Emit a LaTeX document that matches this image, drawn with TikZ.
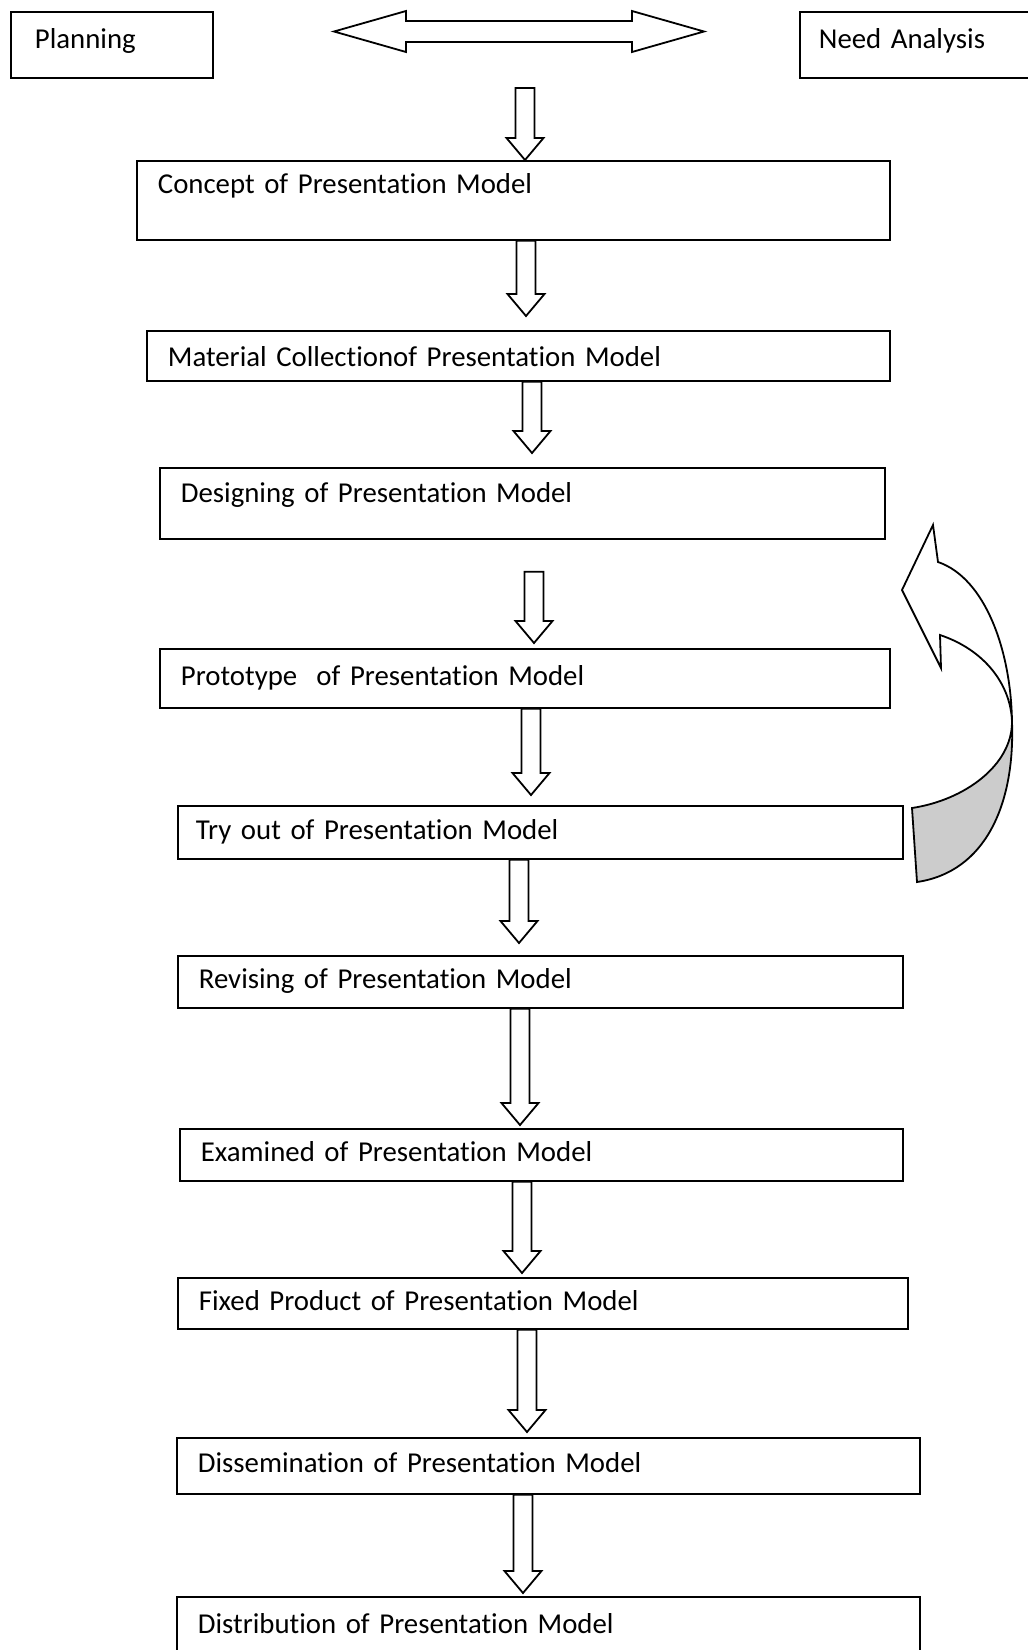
\documentclass[tikz,border=0pt]{standalone}
\usepackage{fontspec}
\setmainfont{Carlito}[Ligatures=NoCommon]
\usetikzlibrary{calc}

\begin{document}
\begin{tikzpicture}[x=0.5pt, y=-0.5pt, line width=0.9pt,
    font=\fontsize{14.4}{17}\selectfont,
    block/.style={rectangle, draw, anchor=north west, align=left, inner xsep=10.5pt, inner ysep=0pt, text height=10pt, text depth=3pt},
    hollow/.style={draw, fill=white, to path={let \p1=(\tikztostart), \p2=(\tikztotarget) in
        (\x1-4.75pt,\y1) -- (\x1-4.75pt,\y2+11pt) -- (\x1-9.25pt,\y2+11pt) -- (\x1,\y2)
        -- (\x1+9.25pt,\y2+11pt) -- (\x1+4.75pt,\y2+11pt) -- (\x1+4.75pt,\y1) -- cycle}},
    twoway/.style={draw, fill=white, to path={let \p1=(\tikztostart), \p2=(\tikztotarget) in
        (\p1) -- (\x1+36pt,\y1+10.25pt) -- (\x1+36pt,\y1+5.25pt) -- (\x2-36pt,\y1+5.25pt)
        -- (\x2-36pt,\y1+10.25pt) -- (\p2) -- (\x2-36pt,\y1-10.25pt) -- (\x2-36pt,\y1-5.25pt)
        -- (\x1+36pt,\y1-5.25pt) -- (\x1+36pt,\y1-10.25pt) -- cycle}}]

    \useasboundingbox (0,0) rectangle (1028,1650);

    \node [block, text width=77pt, inner xsep=12pt, minimum height=33pt, text depth=6pt] (plan) at (10,11) {Planning};
    \node [block, text width=101.5pt, inner xsep=9.5pt, minimum height=33pt, text depth=6pt] (need) at (799,11) {Need Analysis};

    \node [block, text width=355.5pt, minimum height=39.5pt, text depth=16.5pt] (concept) at (136,160) {Concept of Presentation Model};
    \node [block, text width=350.5pt, minimum height=25pt, text height=14pt] (material) at (146,330) {Material Collectionof Presentation Model};
    \node [block, text width=341.5pt, minimum height=35.5pt, text depth=11pt] (design) at (159,467) {Designing of Presentation Model};
    \node [block, text width=344pt, minimum height=29.5pt] (proto) at (159,648) {Prototype\ \ of Presentation Model};
    \node [block, text width=344.5pt, inner xsep=9pt, minimum height=26.5pt] (tryout) at (177,805) {Try out of Presentation Model};
    \node [block, text width=341.5pt, minimum height=26pt] (revise) at (177,955) {Revising of Presentation Model};
    \node [block, text width=340.5pt, minimum height=26pt] (exam) at (179,1128) {Examined of Presentation Model};
    \node [block, text width=344pt, minimum height=25.5pt] (fixed) at (177,1277) {Fixed Product of Presentation Model};
    \node [block, text width=350.5pt, minimum height=28pt] (dissem) at (176,1437) {Dissemination of Presentation Model};
    \node [block, text width=350.5pt, minimum height=30pt] (distrib) at (176,1596) {Distribution of Presentation Model};

    % planning <-> need analysis
    \coordinate (linkw) at (334,31.5);
    \coordinate (linke) at (704,31.5);
    \draw [twoway] (linkw) to (linke);

    % main flow
    \coordinate (start) at (525,88);
    \draw [hollow] (start) to (concept.north);
    \draw [hollow] (concept.south -| 526,0) to ([yshift=7pt]material.north);
    \draw [hollow] (material.south -| 532,0) to ([yshift=7pt]design.north);
    \draw [hollow] ($(design.south -| 534,0)+(0,32)$) to ([yshift=2.5pt]proto.north);
    \draw [hollow] (proto.south -| 531,0) to ([yshift=5pt]tryout.north);
    \draw [hollow] (tryout.south -| 519,0) to ([yshift=6pt]revise.north);
    \draw [hollow] (revise.south -| 520,0) to ([yshift=1.5pt]exam.north);
    \draw [hollow] (exam.south -| 522,0) to ([yshift=2pt]fixed.north);
    \draw [hollow] (fixed.south -| 527,0) to ([yshift=2.5pt]dissem.north);
    \draw [hollow] (dissem.south -| 523,0) to ([yshift=1.5pt]distrib.north);

    % feedback arrow from try out
    \coordinate (twist) at (1012,722);
    \draw [fill=black!20] (912,808) -- (917,882) .. controls (985,872) and (1015,805) .. (twist)
        .. controls (1012,765) and (965,800) .. (912,808) -- cycle;
    \draw [fill=white] (938,562) .. controls (985,578) and (1011,650) .. (twist)
        .. controls (1011,685) and (985,650) .. (940,635) -- (941,668) -- (902,590) -- (933,525) -- cycle;
\end{tikzpicture}
\end{document}
